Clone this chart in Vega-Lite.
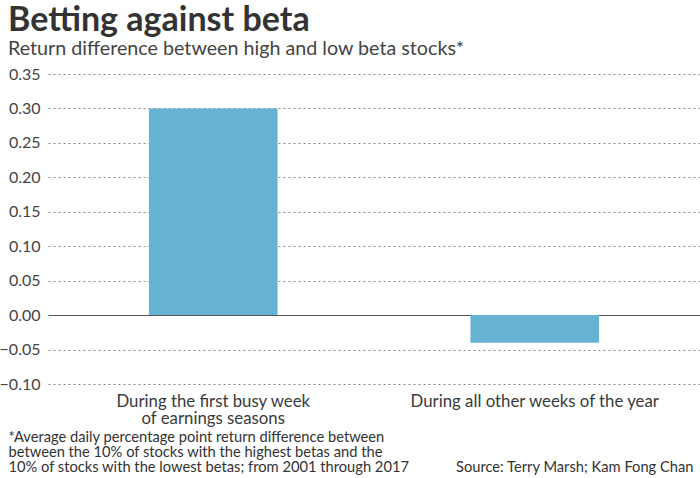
{
  "$schema": "https://vega.github.io/schema/vega-lite/v6.json",
  "autosize": {"type": "none"},
  "width": 652,
  "height": 310,
  "padding": {"left": 48, "top": 74, "right": 0, "bottom": 94},
  "background": "white",
  "config": {
    "font": "Lato",
    "view": {"stroke": null}
  },
  "title": {
    "text": "Betting against beta",
    "subtitle": "Return difference between high and low beta stocks*",
    "anchor": "start",
    "frame": "group",
    "dx": -40,
    "dy": -3,
    "font": "Lato",
    "fontSize": 34,
    "fontWeight": "bold",
    "color": "#333333",
    "subtitleFont": "Lato",
    "subtitleFontSize": 19.7,
    "subtitleColor": "#444444",
    "subtitlePadding": 1,
    "offset": 4
  },
  "data": {
    "values": [
      {"period": "During the first busy week|of earnings seasons", "diff": 0.3},
      {"period": "During all other weeks of the year", "diff": -0.04}
    ]
  },
  "mark": {"type": "bar", "color": "#66b2d2"},
  "encoding": {
    "x": {
      "field": "period",
      "type": "nominal",
      "sort": null,
      "scale": {"paddingInner": 0.6, "paddingOuter": 0.314},
      "axis": {
        "labelExpr": "split(datum.label, '|')",
        "labelAngle": 0,
        "labelFontSize": 16.8,
        "labelColor": "#3a3a3a",
        "labelPadding": 9,
        "labelLineHeight": 17,
        "labelLimit": 0,
        "ticks": false,
        "domain": false,
        "title": [
          "*Average daily percentage point return difference between",
          "between the 10% of stocks with the highest betas and the",
          "10% of stocks with the lowest betas; from 2001 through 2017"
        ],
        "titleFontSize": 14.7,
        "titleFontWeight": "normal",
        "titleColor": "#333333",
        "titleAlign": "left",
        "titleAnchor": "start",
        "titleBaseline": "alphabetic",
        "titleX": -40,
        "titleY": 57,
        "titleLineHeight": 15
      }
    },
    "y": {
      "field": "diff",
      "type": "quantitative",
      "scale": {"domain": [-0.1, 0.35], "nice": false, "zero": false},
      "axis": {
        "values": [-0.1, -0.05, 0, 0.05, 0.1, 0.15, 0.2, 0.25, 0.3, 0.35],
        "format": ".2f",
        "labelOverlap": false,
        "labelFontSize": 16,
        "labelColor": "#444444",
        "labelPadding": 8,
        "ticks": false,
        "domain": false,
        "grid": true,
        "gridColor": {"condition": {"test": "datum.value === 0", "value": "#555555"}, "value": "#888888"},
        "gridDash": {"condition": {"test": "datum.value === 0", "value": []}, "value": [2, 3]},
        "gridWidth": {"condition": {"test": "datum.value === 0", "value": 1.2}, "value": 1},
        "title": "Source: Terry Marsh; Kam Fong Chan",
        "titleAngle": 0,
        "titleFontSize": 14.7,
        "titleFontWeight": "normal",
        "titleColor": "#333333",
        "titleAlign": "right",
        "titleBaseline": "alphabetic",
        "titleX": 645,
        "titleY": 397
      }
    }
  }
}
